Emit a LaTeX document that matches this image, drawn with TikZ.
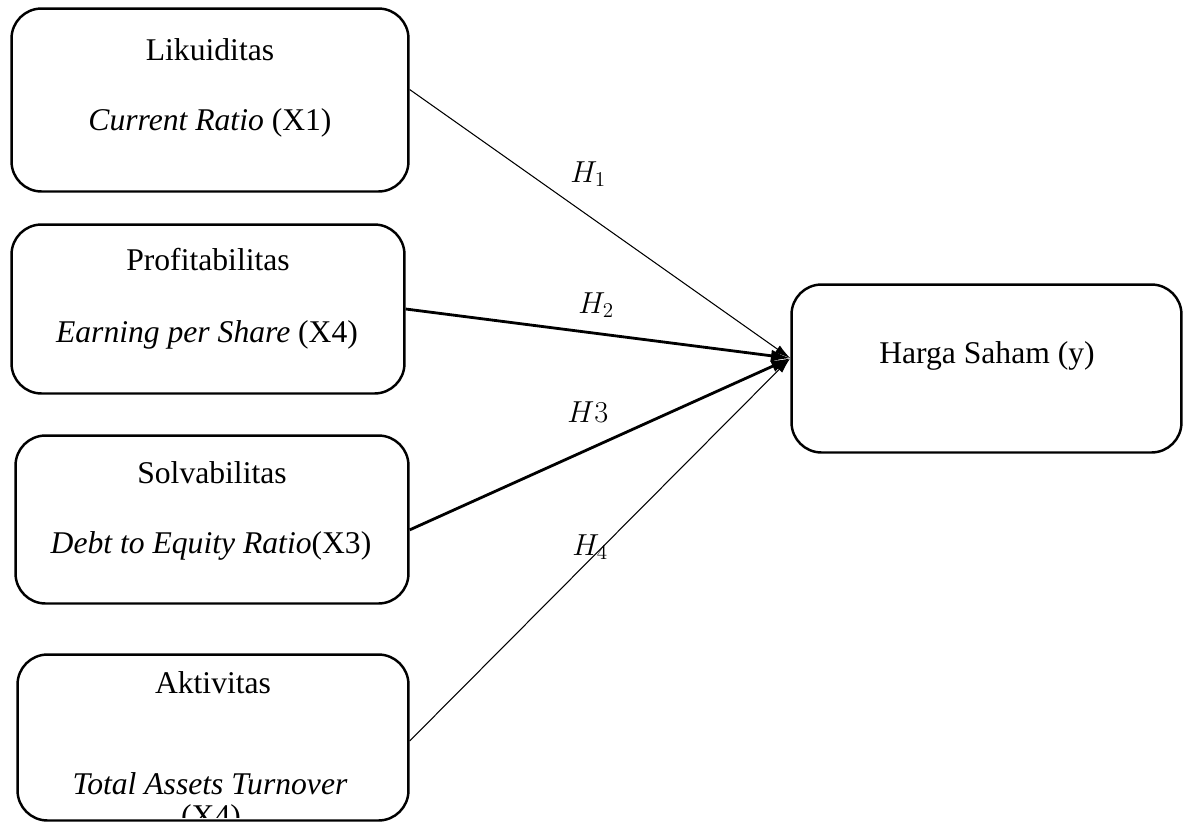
\documentclass[tikz,border=0pt]{standalone}
\usepackage{fontspec}
\setmainfont{Liberation Serif}
\usetikzlibrary{arrows.meta}
\tikzset{
	box/.style={draw, line width=1.4pt, rounded corners=0.6cm, inner sep=0pt},
	txt/.style={anchor=base, inner sep=0pt, font=\fontsize{18}{21}\selectfont},
	hyp/.style={anchor=base west, inner sep=0pt, font=\fontsize{17}{20}\selectfont},
	thinarr/.style={-{Latex[length=9pt,width=5pt]}, line width=0.6pt},
	thickarr/.style={-{Latex[length=11pt,width=7pt]}, line width=1.6pt},
}
\begin{document}
\begin{tikzpicture}[x=0.02cm,y=-0.02cm]
		\useasboundingbox (0,0) rectangle (1184,823);
		\node (Li) at (210,100) [box, minimum width=7.94cm, minimum height=3.66cm] {};
		\node (Pr) at (208,309) [box, minimum width=7.86cm, minimum height=3.38cm] {};
		\node (So) at (212,519.5) [box, minimum width=7.86cm, minimum height=3.36cm] {};
		\node (Ak) at (213,737.5) [box, minimum width=7.82cm, minimum height=3.32cm] {};
		\node (Hs) at (986.5,368.5) [box, minimum width=7.8cm, minimum height=3.36cm] {};
		\node (LiA) at (210,60) [txt] {Likuiditas};
		\node (LiB) at (210,130) [txt] {\textit{Current Ratio} (X1)};
		\node (PrA) at (208,270) [txt] {Profitabilitas};
		\node (PrB) at (207,342) [txt] {\textit{Earning per Share} (X4)};
		\node (SoA) at (212,483) [txt] {Solvabilitas};
		\node (SoB) at (211,553) [txt] {\textit{Debt to Equity Ratio}(X3)};
		\node (AkA) at (213,693) [txt] {Aktivitas};
		\node (AkB) at (210,794) [txt] {\textit{Total Assets Turnover}};
		\begin{scope}
			\clip (16,653) rectangle (410,817);
			\node (AkC) at (211,826) [txt] {(X4)};
		\end{scope}
		\node (HsA) at (987,363) [txt] {Harga Saham (y)};
		\draw[thinarr] (Li.3) -- (Hs.177);
		\draw[thickarr] (Pr.east) -- (Hs.177);
		\draw[thickarr] (So.-3.3) -- (Hs.177);
		\draw[thinarr] (Ak.-1.3) -- (Hs.177);
		\node (H1) at (570,182) [hyp] {$H_1$};
		\node (H2) at (578,313) [hyp] {$H_2$};
		\node (H3) at (567,422) [hyp] {$H3$};
		\node (H4) at (572,555) [hyp] {$H_4$};
	\end{tikzpicture}
\end{document}
